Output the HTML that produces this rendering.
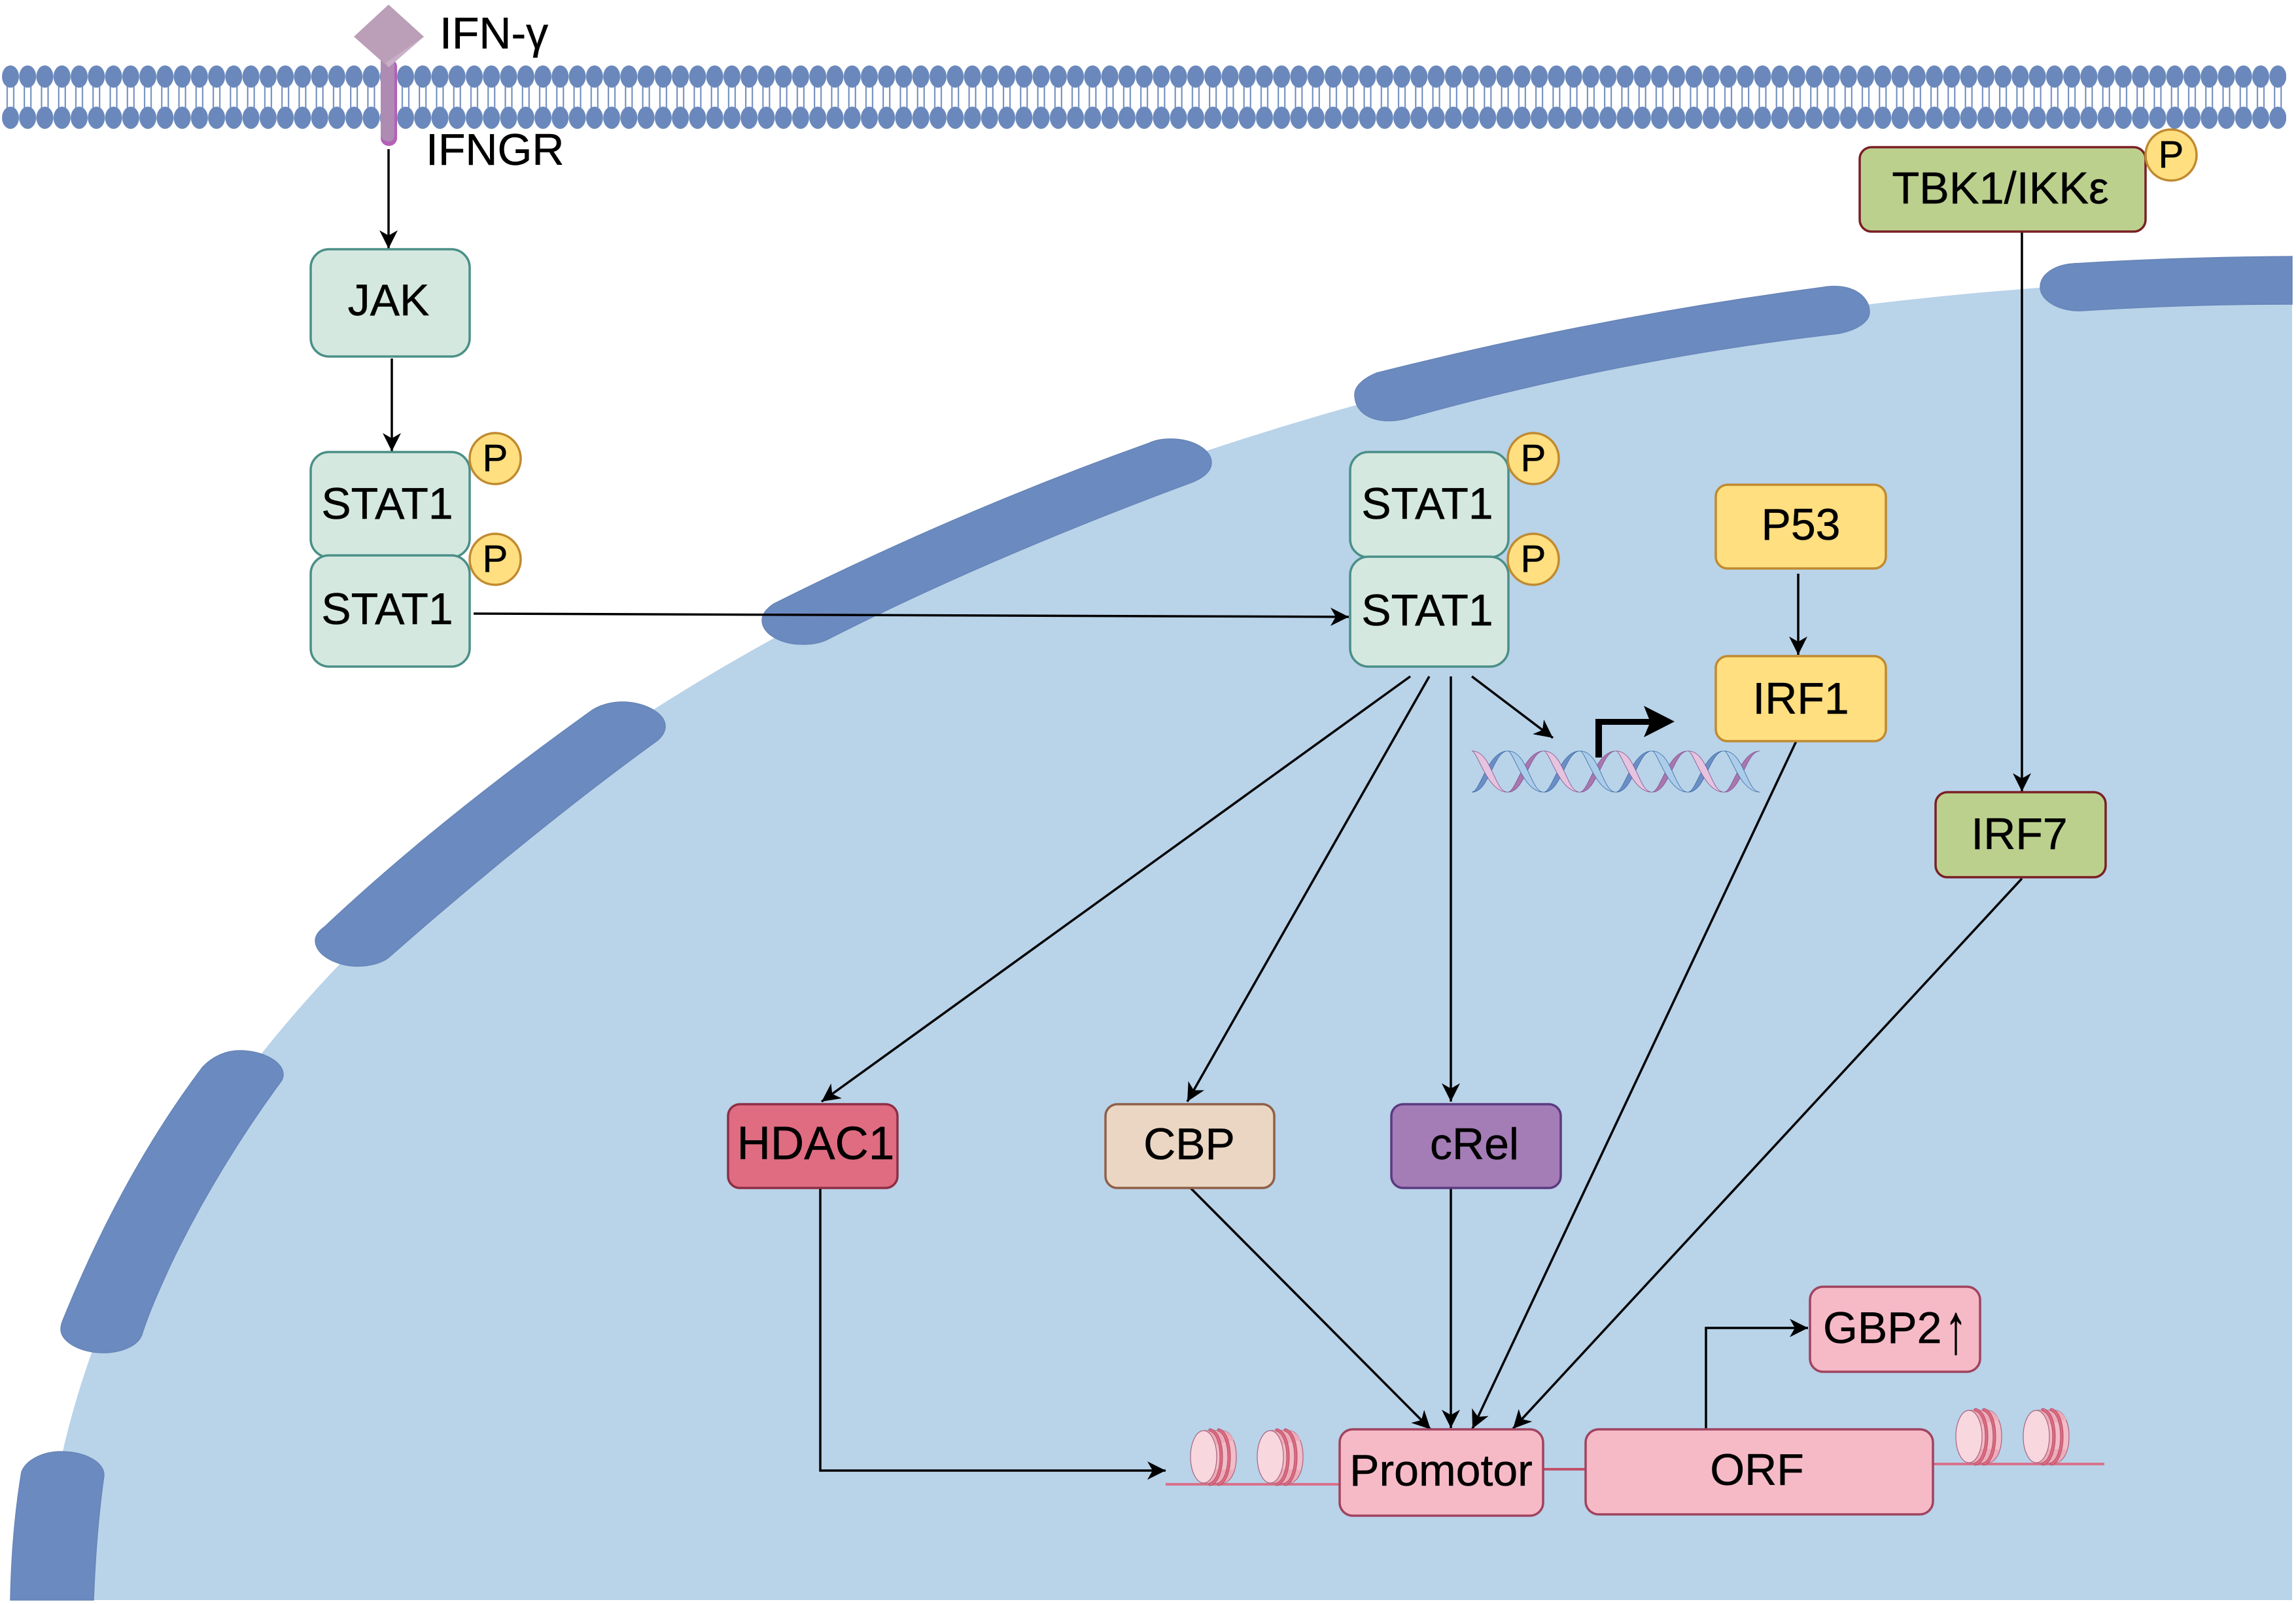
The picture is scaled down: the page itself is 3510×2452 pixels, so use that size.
<!DOCTYPE html>
<html><head><meta charset="utf-8"><style>
html,body{margin:0;padding:0;background:#fff}
svg{display:block}
text{font-family:"Liberation Sans",Arial,sans-serif;font-size:68px;fill:#000;text-anchor:middle;stroke:#000;stroke-width:.5}
.l{text-anchor:start}
.g{fill:#d4e8e0;stroke:#4a8f87;stroke-width:3.5}
.y{fill:#ffdf7f;stroke:#c08a30;stroke-width:3.5}
.p{fill:#f6bac7;stroke:#a0435f;stroke-width:3.5}
.t{fill:#bcd08e;stroke:#7a1f24;stroke-width:3.5}
.a{fill:none;stroke:#000;stroke-width:3.5}
.seg{fill:#6b8abf;stroke:#6785b8;stroke-width:1.5}
</style></head><body>
<svg xmlns="http://www.w3.org/2000/svg" width="3510" height="2452" viewBox="0 0 3510 2452">
<defs>
<pattern id="mem" patternUnits="userSpaceOnUse" x="2.87" y="100" width="26.26" height="97">
<line x1="8.1" y1="25" x2="8.1" y2="72" stroke="#6a88bb" stroke-width="2"/>
<line x1="18.1" y1="25" x2="18.1" y2="72" stroke="#6a88bb" stroke-width="2"/>
<ellipse cx="13.13" cy="17" rx="13" ry="17" fill="#6a88bb"/>
<ellipse cx="13.13" cy="80" rx="13" ry="17" fill="#6a88bb"/>
</pattern>
<marker id="ah" markerUnits="userSpaceOnUse" markerWidth="40" markerHeight="40" refX="30" refY="20" orient="auto" overflow="visible">
<path d="M30,20 L2,6 L10,20 L2,34 Z" fill="#000"/>
</marker>
<path id="rib" d="M0,0 C31,0 34,63 55,63 C23,63 9,0 0,0 Z" stroke-width=".8"/>
<path id="rib2" d="M0,0 C27,0 33,63 55,63 C24,63 13,0 0,0 Z" stroke-width=".8"/>
<g id="nuc">
<path d="M20,0 L48,0 C62,0 70,18 70,40 C70,62 62,80 48,80 L20,80 Z" fill="#f2bcc8" stroke="#a8637c" stroke-width="1.2"/>
<path d="M20,0 L48,0 C56,0 62,6 66,14 L30,24 Z M20,80 L48,80 C56,80 62,74 66,60 L30,58 Z" fill="#eeabb9"/>
<ellipse cx="20" cy="40" rx="20" ry="40" fill="#f8d7df" stroke="#a8637c" stroke-width="1.2"/>
<path d="M30,-1 C42,2 47,22 47,40 C47,58 42,78 30,82" fill="none" stroke="#a84a60" stroke-width="5" stroke-linecap="round"/>
<path d="M30,-1 C42,2 47,22 47,40 C47,58 42,78 30,82" fill="none" stroke="#dc6a80" stroke-width="3.4" stroke-linecap="round"/>
<path d="M43,-1 C54,2 59,22 59,40 C59,58 54,78 43,82" fill="none" stroke="#a84a60" stroke-width="5" stroke-linecap="round"/>
<path d="M43,-1 C54,2 59,22 59,40 C59,58 54,78 43,82" fill="none" stroke="#dc6a80" stroke-width="3.4" stroke-linecap="round"/>
</g>
</defs>

<rect width="3510" height="2452" fill="#fff"/>

<!-- nucleus -->
<path fill="#b9d3e9" d="M65,2446 A3486,2076 0 0 1 3504,424 L3504,2446 Z"/>

<!-- nuclear envelope segments -->
<path class="seg" d="M16,2446 Q18,2340 33,2250 C40,2232 65,2219 93,2219 C130,2219 159,2235 159,2255 Q147,2340 143,2446 Z"/>
<path class="seg" d="M310,1631 C325,1615 345,1606 367,1606 C400,1606 433,1622 433,1643 C433,1650 429,1654 423,1662 C370,1735 310,1830 260,1935 C245,1968 228,2005 217,2040 C210,2060 180,2068 157,2068 C125,2068 93,2052 93,2032 Q93,2027 95,2021 C150,1885 220,1750 310,1631 Z"/>
<path class="seg" d="M902,1088 C915,1078 935,1073 951,1073 C985,1073 1017,1090 1017,1110 Q1017,1122 1005,1132 C890,1215 740,1335 595,1463 C585,1472 565,1477 546,1477 C515,1477 482,1460 482,1438 Q482,1427 496,1417 C620,1300 760,1190 902,1088 Z"/>
<path class="seg" d="M1755,678 C1765,673 1778,671 1789,671 C1825,671 1852,688 1852,707 Q1852,725 1823,737 Q1510,853 1266,977 C1255,983 1240,985 1227,985 C1195,985 1165,970 1165,948 Q1165,935 1183,923 Q1469,780 1755,678 Z"/>
<path class="seg" d="M2105,570 Q2446,484 2788,439 C2830,432 2858,452 2858,477 C2858,492 2838,505 2810,510 Q2484,547 2159,637 C2115,652 2071,640 2071,603 C2071,590 2085,578 2105,570 Z"/>
<path class="seg" d="M3170,403 Q3330,393 3504,392 L3504,465 Q3340,465 3183,475 C3150,477 3119,460 3119,439 C3119,420 3140,405 3170,403 Z"/>

<!-- membrane -->
<rect x="3" y="100" width="3492" height="97" fill="url(#mem)"/>

<!-- receptor -->
<rect x="582" y="90" width="25" height="133" rx="12" fill="#b560b8"/>
<path d="M582,90 H603 V205 Q603,218 592,216 Q582,214 582,205 Z" fill="#ae8bb3"/>
<path d="M594,7 L648,56 L594,103 L541,56 Z" fill="#bb9fb8"/>
<path d="M648,56 L594,103 L590,96 Z" fill="#c9b0c8"/>

<text class="l" x="672" y="74">IFN-γ</text>
<text class="l" x="651" y="252">IFNGR</text>

<!-- arrows -->
<line class="a" x1="594" y1="228" x2="594" y2="380" marker-end="url(#ah)"/>
<line class="a" x1="599" y1="548" x2="599" y2="690" marker-end="url(#ah)"/>
<line class="a" x1="724" y1="938" x2="2062" y2="943" marker-end="url(#ah)"/>
<line class="a" x1="2156" y1="1034" x2="1256" y2="1684" marker-end="url(#ah)"/>
<line class="a" x1="2185" y1="1034" x2="1815" y2="1684" marker-end="url(#ah)"/>
<line class="a" x1="2218" y1="1034" x2="2218" y2="1684" marker-end="url(#ah)"/>
<line class="a" x1="2250" y1="1034" x2="2374" y2="1128" marker-end="url(#ah)"/>
<line class="a" x1="2749" y1="877" x2="2749" y2="1001" marker-end="url(#ah)"/>
<line class="a" x1="3091" y1="350" x2="3091" y2="1210" marker-end="url(#ah)"/>
<line class="a" x1="2746" y1="1133" x2="2251" y2="2184" marker-end="url(#ah)"/>
<line class="a" x1="3091" y1="1343" x2="2313" y2="2184" marker-end="url(#ah)"/>
<line class="a" x1="1820" y1="1816" x2="2187" y2="2185" marker-end="url(#ah)"/>
<line class="a" x1="2218" y1="1816" x2="2218" y2="2183" marker-end="url(#ah)"/>
<polyline class="a" points="1254,1816 1254,2248 1782,2248" marker-end="url(#ah)"/>
<polyline class="a" points="2608,2185 2608,2030 2764,2030" marker-end="url(#ah)"/>

<!-- DNA helix -->
<g transform="translate(2250,1148)">
<g fill="#6b8fc5" stroke="#3c6aa5">
<use href="#rib2" transform="translate(0,63) scale(1,-1)"/>
<use href="#rib2" transform="translate(110.2,63) scale(1,-1)"/>
<use href="#rib2" transform="translate(220.4,63) scale(1,-1)"/>
<use href="#rib2" transform="translate(330.6,63) scale(1,-1)"/>
</g>
<g fill="#a877ae" stroke="#84508f">
<use href="#rib2" transform="translate(55.1,63) scale(1,-1)"/>
<use href="#rib2" transform="translate(165.3,63) scale(1,-1)"/>
<use href="#rib2" transform="translate(275.5,63) scale(1,-1)"/>
<use href="#rib2" transform="translate(385.7,63) scale(1,-1)"/>
</g>
<g fill="#e6c3de" stroke="#84508f">
<use href="#rib" transform="translate(0,0)"/>
<use href="#rib" transform="translate(110.2,0)"/>
<use href="#rib" transform="translate(220.4,0)"/>
<use href="#rib" transform="translate(330.6,0)"/>
</g>
<g fill="#abcdea" stroke="#3c6aa5">
<use href="#rib" transform="translate(55.1,0)"/>
<use href="#rib" transform="translate(165.3,0)"/>
<use href="#rib" transform="translate(275.5,0)"/>
<use href="#rib" transform="translate(385.7,0)"/>
</g>
</g>
<!-- TSS bent arrow -->
<path d="M2439,1158 V1099 H2521 L2513,1079 L2560,1103 L2513,1127 L2521,1108 H2449 V1158 Z" fill="#000"/>

<!-- chromatin -->
<rect x="1782" y="2267" width="266" height="4" fill="#d9708a"/>
<rect x="2955" y="2236" width="262" height="4" fill="#d9708a"/>
<rect x="2359" y="2244" width="65" height="4" fill="#c0506a"/>
<use href="#nuc" x="1820" y="2187"/>
<use href="#nuc" x="1922" y="2187"/>
<use href="#nuc" x="2990" y="2156"/>
<use href="#nuc" x="3093" y="2156"/>

<!-- boxes -->
<rect class="g" x="475" y="381" width="243" height="164" rx="28"/>
<rect class="g" x="475" y="691" width="243" height="161" rx="28"/>
<rect class="g" x="475" y="849" width="243" height="170" rx="28"/>
<rect class="g" x="2064" y="691" width="242" height="161" rx="28"/>
<rect class="g" x="2064" y="851" width="242" height="168" rx="28"/>
<rect class="y" x="2623" y="741" width="260" height="128" rx="18"/>
<rect class="y" x="2623" y="1003" width="260" height="130" rx="18"/>
<rect class="t" x="2959" y="1211" width="260" height="130" rx="18"/>
<rect class="t" x="2843" y="225" width="437" height="129" rx="18"/>
<rect x="1113" y="1688" width="259" height="128" rx="18" fill="#e06c82" stroke="#8e2e44" stroke-width="3.5"/>
<rect x="1690" y="1688" width="258" height="128" rx="18" fill="#ead6c3" stroke="#8f5f48" stroke-width="3.5"/>
<rect x="2127" y="1688" width="259" height="128" rx="18" fill="#a47cb6" stroke="#5b3a80" stroke-width="3.5"/>
<rect class="p" x="2048" y="2185" width="311" height="132" rx="20"/>
<rect class="p" x="2424" y="2185" width="531" height="130" rx="20"/>
<rect class="p" x="2767" y="1967" width="260" height="130" rx="20"/>

<!-- P circles -->
<circle class="y" cx="757" cy="701" r="39"/>
<circle class="y" cx="757" cy="855" r="39"/>
<circle class="y" cx="2344" cy="701" r="39"/>
<circle class="y" cx="2344" cy="855" r="39"/>
<circle class="y" cx="3319" cy="237" r="39"/>
<text x="757" y="720" style="font-size:58px">P</text>
<text x="757" y="874" style="font-size:58px">P</text>
<text x="2344" y="720" style="font-size:58px">P</text>
<text x="2344" y="874" style="font-size:58px">P</text>
<text x="3319" y="256" style="font-size:58px">P</text>

<!-- labels -->
<text x="594" y="482">JAK</text>
<text x="592" y="793">STAT1</text>
<text x="592" y="954">STAT1</text>
<text x="2182" y="793">STAT1</text>
<text x="2182" y="956">STAT1</text>
<text x="2753" y="825">P53</text>
<text x="2753" y="1091">IRF1</text>
<text x="3087" y="1298">IRF7</text>
<text x="3058" y="311" style="font-size:68.5px">TBK1/IKKε</text>
<text x="1247" y="1772" style="font-size:71px">HDAC1</text>
<text x="1818" y="1772">CBP</text>
<text x="2254" y="1772">cRel</text>
<text x="2203" y="2271">Promotor</text>
<text x="2686" y="2270">ORF</text>
<text class="l" x="2787" y="2053">GBP2</text>
<text transform="translate(2990,2068) scale(1,1.6)">↑</text>
</svg>
</body></html>
